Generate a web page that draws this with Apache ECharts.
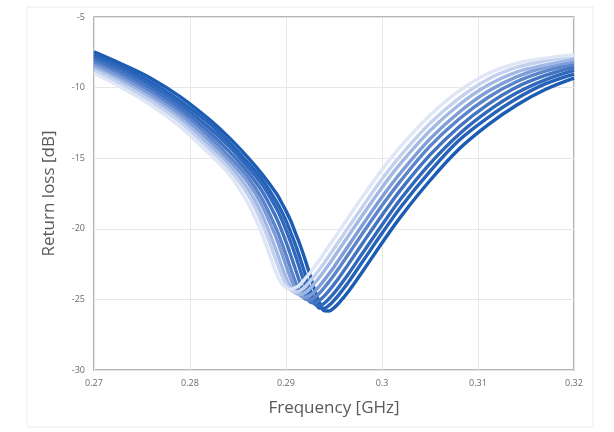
<!DOCTYPE html>
<html>
<head>
<meta charset="utf-8">
<script src="https://cdn.jsdelivr.net/npm/echarts@6/dist/echarts.min.js"></script>
<style>
html,body{margin:0;padding:0;background:#fff;}
#chart{width:614px;height:432px;}
</style>
</head>
<body>
<div id="chart"></div>
<script>
// Frequency grid [GHz]
const freq = [0.270,0.273,0.276,0.279,0.282,0.284,0.286,0.2875,0.289,0.2895,0.290,0.2905,0.291,0.2915,0.292,0.2925,0.293,0.2935,0.294,0.2945,0.295,0.2955,0.2965,0.298,0.300,0.302,0.305,0.308,0.311,0.314,0.317,0.320];

// Return loss [dB] curves, lightest (lowest resonance) to darkest
const rl1 = [-8.98,-10.04,-11.27,-12.79,-14.69,-16.08,-18.15,-20.38,-23.18,-23.84,-24.18,-24.28,-24.16,-23.92,-23.52,-23.11,-22.66,-22.20,-21.70,-21.20,-20.70,-20.20,-19.20,-17.70,-15.81,-14.12,-11.96,-10.25,-9.02,-8.28,-7.91,-7.69];
const rl2 = [-8.78,-9.79,-11.00,-12.45,-14.35,-15.70,-17.55,-19.59,-22.30,-23.21,-23.92,-24.35,-24.48,-24.38,-24.11,-23.72,-23.31,-22.86,-22.40,-21.90,-21.40,-20.90,-19.90,-18.41,-16.48,-14.76,-12.53,-10.76,-9.42,-8.57,-8.11,-7.75];
const rl3 = [-8.61,-9.60,-10.81,-12.23,-14.08,-15.44,-17.15,-19.00,-21.57,-22.55,-23.44,-24.14,-24.56,-24.66,-24.52,-24.23,-23.84,-23.42,-22.97,-22.50,-22.00,-21.50,-20.50,-19.01,-17.07,-15.32,-13.05,-11.23,-9.83,-8.90,-8.40,-7.98];
const rl4 = [-8.41,-9.37,-10.55,-11.95,-13.74,-15.11,-16.67,-18.35,-20.67,-21.61,-22.60,-23.53,-24.28,-24.74,-24.86,-24.72,-24.43,-24.04,-23.62,-23.17,-22.70,-22.20,-21.20,-19.70,-17.75,-15.98,-13.63,-11.76,-10.28,-9.24,-8.56,-8.17];
const rl5 = [-8.24,-9.18,-10.35,-11.73,-13.48,-14.83,-16.34,-17.88,-20.01,-20.89,-21.85,-22.85,-23.79,-24.54,-24.98,-25.04,-24.87,-24.55,-24.16,-23.73,-23.28,-22.80,-21.80,-20.30,-18.35,-16.55,-14.15,-12.24,-10.72,-9.59,-8.83,-8.33];
const rl6 = [-8.04,-8.96,-10.10,-11.47,-13.17,-14.46,-15.97,-17.33,-19.23,-20.04,-20.93,-21.89,-22.90,-23.88,-24.68,-25.17,-25.24,-25.06,-24.75,-24.36,-23.93,-23.48,-22.50,-21.00,-19.04,-17.19,-14.77,-12.79,-11.20,-9.97,-9.14,-8.54];
const rl7 = [-7.84,-8.74,-9.85,-11.20,-12.85,-14.10,-15.60,-16.85,-18.55,-19.25,-20.07,-20.97,-21.93,-22.96,-23.98,-24.83,-25.35,-25.44,-25.26,-24.94,-24.56,-24.13,-23.20,-21.70,-19.73,-17.84,-15.38,-13.32,-11.69,-10.39,-9.45,-8.78];
const rl8 = [-7.67,-8.57,-9.63,-10.96,-12.53,-13.82,-15.30,-16.49,-18.07,-18.70,-19.42,-20.28,-21.16,-22.16,-23.21,-24.28,-25.12,-25.62,-25.62,-25.41,-25.07,-24.68,-23.79,-22.30,-20.32,-18.42,-15.94,-13.75,-12.14,-10.79,-9.74,-9.04];
const rl9 = [-7.47,-8.37,-9.37,-10.66,-12.25,-13.49,-14.92,-16.12,-17.50,-18.10,-18.73,-19.45,-20.32,-21.20,-22.20,-23.28,-24.38,-25.28,-25.81,-25.82,-25.60,-25.27,-24.44,-23.00,-21.00,-19.10,-16.58,-14.37,-12.66,-11.25,-10.14,-9.33];

const curves = [rl1, rl2, rl3, rl4, rl5, rl6, rl7, rl8, rl9];
const colors = ['#dfe6f6','#c3d1ee','#a2b8e4','#7d9cd8','#5b84cb','#4274c2','#3068bc','#2562b8','#1c5cb3'];

const xTicks = [0.27, 0.28, 0.29, 0.30, 0.31, 0.32];
const yTicks = [-30, -25, -20, -15, -10, -5];

const chart = echarts.init(document.getElementById('chart'), null, {renderer: 'canvas'});
const FONT = 'Open Sans';

const series = curves.map((vals, i) => ({
  type: 'line',
  data: freq.map((f, j) => [f, vals[j]]),
  showSymbol: false,
  smooth: 0.35,
  lineStyle: {color: colors[i], width: 3.4},
  z: 2 + (curves.length - i),
  silent: true
}));

chart.setOption({
  animation: false,
  backgroundColor: '#ffffff',
  graphic: [{
    type: 'rect',
    shape: {x: 27, y: 7, width: 566, height: 420},
    style: {fill: 'none', stroke: '#ececec', lineWidth: 1},
    silent: true, z: -1
  }],
  grid: {
    left: 94, right: 40, top: 17, bottom: 62,
    show: true, borderColor: '#9c9c9c', borderWidth: 1.5, backgroundColor: 'transparent'
  },
  xAxis: {
    type: 'value',
    min: xTicks[0], max: xTicks[xTicks.length - 1], interval: 0.01,
    name: 'Frequency [GHz]', nameLocation: 'middle', nameGap: 30,
    nameTextStyle: {fontFamily: FONT, fontSize: 17, color: '#595959'},
    axisLine: {show: false},
    axisTick: {show: false},
    axisLabel: {fontFamily: FONT, fontSize: 9, color: '#6a6a6a', margin: 9,
      formatter: v => String(Math.round(v * 100) / 100)},
    splitLine: {show: true, lineStyle: {color: '#e6e6e6', width: 1}}
  },
  yAxis: {
    type: 'value',
    min: yTicks[0], max: yTicks[yTicks.length - 1], interval: 5,
    name: 'Return loss [dB]', nameLocation: 'middle', nameGap: 36,
    nameTextStyle: {fontFamily: FONT, fontSize: 17, color: '#595959'},
    axisLine: {show: false},
    axisTick: {show: false},
    axisLabel: {fontFamily: FONT, fontSize: 9, color: '#6a6a6a', margin: 9},
    splitLine: {show: true, lineStyle: {color: '#e6e6e6', width: 1}}
  },
  series: series
});
</script>
</body>
</html>
